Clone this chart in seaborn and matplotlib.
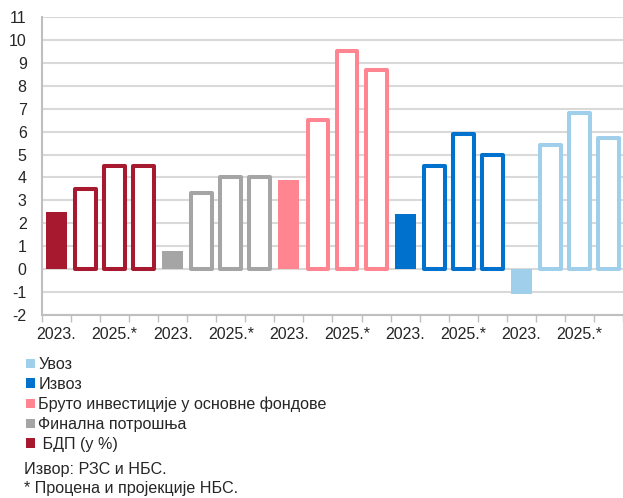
import matplotlib
matplotlib.use("Agg")
import matplotlib.pyplot as plt
from matplotlib.patches import Patch
from matplotlib.ticker import FixedLocator, MultipleLocator
import numpy as np
import pandas as pd
import seaborn as sns

sns.set_theme(style="white")
plt.rcParams["font.family"] = ["Liberation Sans", "DejaVu Sans"]
plt.rcParams["axes.unicode_minus"] = False

# ----------------------------------------------------------------------
# DATA
# ----------------------------------------------------------------------
years = ["2023.", "2024.", "2025.*", "2026.*"]
series = ["БДП (у %)", "Финална потрошња", "Бруто инвестиције у основне фондове",
          "Извоз", "Увоз"]
gdp = [2.5, 3.5, 4.5, 4.5]
consumption = [0.8, 3.3, 4.0, 4.0]
investment = [3.9, 6.5, 9.5, 8.7]
exports = [2.4, 4.5, 5.9, 5.0]
imports = [-1.1, 5.4, 6.8, 5.7]

colors = ["#A6192E", "#A5A5A5", "#FF8591", "#0072CE", "#A0CFEB"]
legend_labels = ["Увоз", "Извоз", "Бруто инвестиције у основне фондове",
                 "Финална потрошња", " БДП (у %)"]

values = [gdp, consumption, investment, exports, imports]
rows = []
for s, vals, col in zip(series, values, colors):
    for y, v in zip(years, vals):
        rows.append({"series": s, "year": y, "value": v, "color": col})
df = pd.DataFrame(rows)
df["slot"] = np.arange(len(df))

# ----------------------------------------------------------------------
# PLOT
# ----------------------------------------------------------------------
fig = plt.figure(figsize=(6.23, 4.98), dpi=100)
ax = fig.add_axes([0.0674, 0.3675, 0.9326, 0.5984])

sns.barplot(data=df, x="slot", y="value", hue="slot", palette=list(df["color"]),
            legend=False, width=0.72, saturation=1, ax=ax)

for cont, (_, r) in zip(ax.containers, df.iterrows()):
    for bar in cont:
        if r["year"] == "2023.":
            bar.set_facecolor(r["color"])
            bar.set_edgecolor("none")
        else:
            bar.set_facecolor("white")
            bar.set_edgecolor(r["color"])
            bar.set_linewidth(2.9)
            bar.set_joinstyle("round")

ax.set_xlim(-0.5, len(df) - 0.5)
ax.set_ylim(-2, 11)
ax.yaxis.set_major_locator(MultipleLocator(1))
ax.grid(axis="y", color="#D9D9D9", linewidth=1.5)
ax.set_axisbelow(True)

label_pos = [i for i in range(len(df)) if df["year"][i] in ("2023.", "2025.*")]
ax.set_xticks(label_pos)
ax.set_xticklabels([df["year"][i] for i in label_pos])
ax.xaxis.set_minor_locator(FixedLocator(np.arange(-0.5, len(df), 1)))
ax.tick_params(axis="x", which="major", length=0, pad=9, labelsize=11.5)
ax.tick_params(axis="x", which="minor", length=5, width=1, color="#BFBFBF",
               direction="out", bottom=True)
ax.tick_params(axis="y", length=0, pad=11, labelsize=11.5)
ax.set_xlabel("")
ax.set_ylabel("")

for side in ["top", "right"]:
    ax.spines[side].set_visible(False)
for side in ["left", "bottom"]:
    ax.spines[side].set_color("#BFBFBF")
    ax.spines[side].set_linewidth(1.5)

handles = [Patch(facecolor=c, edgecolor="none") for c in colors[::-1]]
fig.legend(handles, legend_labels, loc="upper left", bbox_to_anchor=(0.042, 0.283),
           frameon=False, fontsize=11.6, handlelength=0.55, handleheight=0.55,
           handletextpad=0.2, labelspacing=0.3, borderpad=0, borderaxespad=0)

fig.text(0.038, 1 - 469 / 498, "Извор: РЗС и НБС.", va="center", fontsize=11.6)
fig.text(0.038, 1 - 488 / 498, "* Процена и пројекције НБС.", va="center", fontsize=11.6)

plt.savefig("out.png", dpi=100)
plt.close()
